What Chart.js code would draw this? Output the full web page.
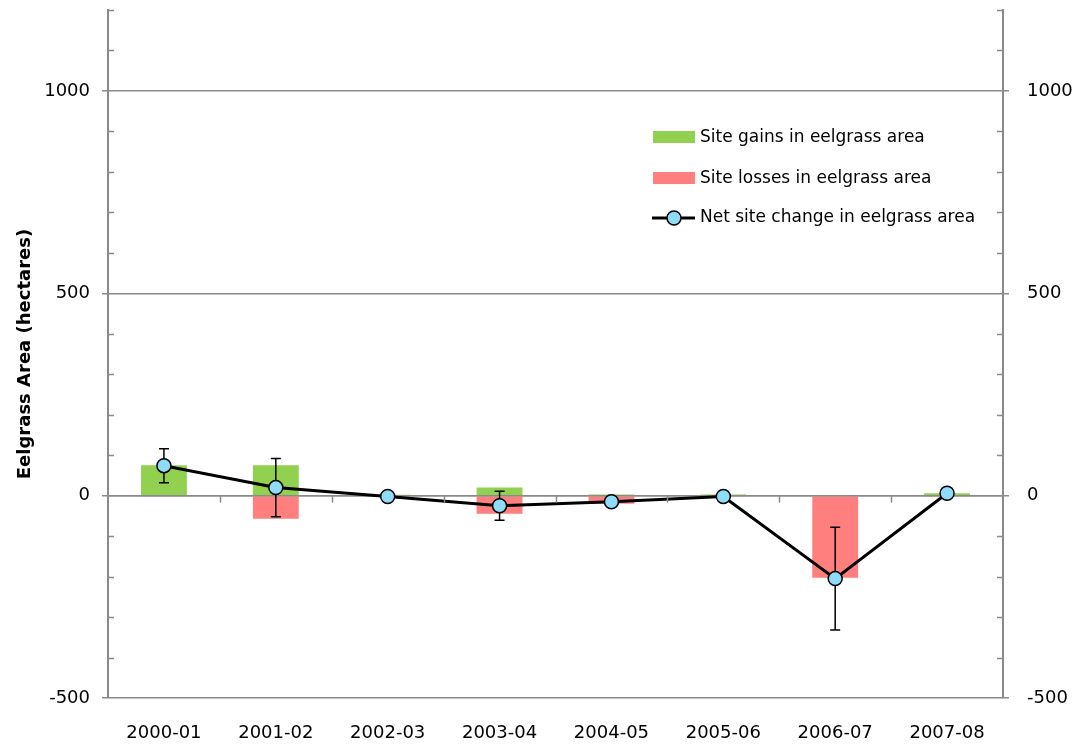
<!DOCTYPE html>
<html lang="en">
<head>
<meta charset="UTF-8">
<title>Eelgrass area change</title>
<script src="https://cdn.jsdelivr.net/npm/chart.js"></script>
<style>
  html, body { margin: 0; padding: 0; background: #fff; }
  #wrap { width: 1072px; height: 745px; position: relative; }
</style>
</head>
<body>
<div id="wrap"><canvas id="grafico"></canvas></div>

<script>
// yearly site changes, hectares
const periodos = ['2000-01', '2001-02', '2002-03', '2003-04', '2004-05', '2005-06', '2006-07', '2007-08'];
const ganhos = [75, 75, 2, 20, 3, 3, 0, 6];
const perdas = [-3, -57, -2, -45, -20, -3, -203, -3];
const liquido = [74, 20, -2, -25, -15, -2, -205, 6];
const erroLiquido = [42, 72, 0, 36, 8, 0, 127, 0];
const ticksPrincipais = [-500, 0, 500, 1000];

const cinza = '#8a8a8a';
const fonte = "'DejaVu Sans', sans-serif";

// minor ticks (every 100) drawn inside both vertical axes, category ticks on the zero line
const marcasMenores = {
  id: 'marcasMenores',
  afterDraw(chart) {
    const ctx = chart.ctx;
    const yL = chart.scales.y, yR = chart.scales.y2, x = chart.scales.x;
    ctx.save();
    ctx.strokeStyle = cinza;
    ctx.lineWidth = 1.5;
    for (let v = -400; v <= 1200; v += 100) {
      if (v % 500 === 0) continue;
      const py = Math.round(yL.getPixelForValue(v)) + 0.5;
      ctx.beginPath();
      ctx.moveTo(yL.right, py); ctx.lineTo(yL.right + 6, py);
      ctx.moveTo(yR.left, py); ctx.lineTo(yR.left - 6, py);
      ctx.stroke();
    }
    const y0 = yL.getPixelForValue(0);
    for (let i = 1; i < periodos.length; i++) {
      const px = Math.round((x.getPixelForTick(i - 1) + x.getPixelForTick(i)) / 2) + 0.5;
      ctx.beginPath();
      ctx.moveTo(px, y0); ctx.lineTo(px, y0 + 7);
      ctx.stroke();
    }
    ctx.restore();
  }
};

// zero axis over the bars, then error bars on the net change, all under the line markers
const barrasErro = {
  id: 'barrasErro',
  beforeDatasetDraw(chart, args) {
    if (args.index !== 2) return;
    const ctx = chart.ctx;
    const y = chart.scales.y;
    const area = chart.chartArea;
    const meta = chart.getDatasetMeta(2);
    ctx.save();
    ctx.strokeStyle = cinza;
    ctx.lineWidth = 1.5;
    const y0 = y.getPixelForValue(0);
    ctx.beginPath();
    ctx.moveTo(area.left, y0); ctx.lineTo(area.right, y0);
    ctx.stroke();
    ctx.strokeStyle = '#000';
    meta.data.forEach(function (pt, i) {
      const e = erroLiquido[i];
      if (!e) return;
      const topo = y.getPixelForValue(liquido[i] + e);
      const base = y.getPixelForValue(liquido[i] - e);
      ctx.beginPath();
      ctx.moveTo(pt.x, topo); ctx.lineTo(pt.x, base);
      ctx.moveTo(pt.x - 5, topo); ctx.lineTo(pt.x + 5, topo);
      ctx.moveTo(pt.x - 5, base); ctx.lineTo(pt.x + 5, base);
      ctx.stroke();
    });
    ctx.restore();
  }
};

// legend box inside the plot, upper right
const legenda = {
  id: 'legenda',
  afterDraw(chart) {
    const ctx = chart.ctx;
    const lx = 653, tx = 700;
    ctx.save();
    ctx.font = '17px ' + fonte;
    ctx.textBaseline = 'middle';
    ctx.fillStyle = '#92d050';
    ctx.fillRect(lx, 131, 42, 12);
    ctx.fillStyle = '#ff7f7f';
    ctx.fillRect(lx, 172, 42, 12);
    ctx.strokeStyle = '#000';
    ctx.lineWidth = 3;
    ctx.beginPath();
    ctx.moveTo(lx - 1, 218); ctx.lineTo(lx + 42, 218);
    ctx.stroke();
    ctx.beginPath();
    ctx.arc(lx + 21, 218, 7, 0, Math.PI * 2);
    ctx.fillStyle = '#8fdcf8';
    ctx.fill();
    ctx.lineWidth = 1.5;
    ctx.stroke();
    ctx.fillStyle = '#000';
    ctx.fillText('Site gains in eelgrass area', tx, 138);
    ctx.fillText('Site losses in eelgrass area', tx, 179);
    ctx.fillText('Net site change in eelgrass area', tx, 218);
    ctx.restore();
  }
};

function semPadding(s) {
  s.paddingTop = 0;
  s.paddingBottom = 0;
}

const ctx = document.getElementById('grafico');

new Chart(ctx, {
  type: 'bar',
  data: {
    labels: periodos,
    datasets: [
      {
        label: 'Site gains in eelgrass area',
        data: ganhos,
        backgroundColor: '#92d050',
        stack: 'sitio',
        order: 1,
        categoryPercentage: 1,
        barPercentage: 0.41
      },
      {
        label: 'Site losses in eelgrass area',
        data: perdas,
        backgroundColor: '#ff7f7f',
        stack: 'sitio',
        order: 1,
        categoryPercentage: 1,
        barPercentage: 0.41
      },
      {
        type: 'line',
        label: 'Net site change in eelgrass area',
        data: liquido,
        borderColor: '#000',
        borderWidth: 3,
        pointRadius: 7,
        pointBorderWidth: 1.5,
        pointBackgroundColor: '#8fdcf8',
        pointBorderColor: '#000',
        tension: 0,
        order: 0
      }
    ]
  },
  options: {
    responsive: true,
    maintainAspectRatio: false,
    animation: false,
    layout: { padding: { top: 10, left: 0, right: 0, bottom: 0 } },
    plugins: { legend: { display: false }, tooltip: { enabled: false } },
    scales: {
      x: {
        stacked: true,
        offset: true,
        grid: { display: false, drawTicks: false },
        border: { display: false },
        ticks: { color: '#000', padding: 25, font: { family: fonte, size: 18 } },
        afterFit(s) { s.height = 47; }
      },
      y: {
        position: 'left',
        stacked: true,
        min: -500,
        max: 1200,
        afterBuildTicks(s) { s.ticks = ticksPrincipais.map(v => ({ value: v })); },
        grid: { color: cinza, lineWidth: 1.5, tickLength: 6, tickColor: cinza, drawTicks: true },
        border: { display: true, color: cinza, width: 2 },
        ticks: {
          color: '#000',
          padding: 12,
          font: { family: fonte, size: 18 },
          callback: v => String(v)
        },
        title: {
          display: true,
          text: 'Eelgrass Area (hectares)',
          color: '#000',
          font: { family: fonte, size: 18, weight: 'bold' },
          padding: { top: 15, bottom: 0 }
        },
        afterFit(s) { s.width = 108; semPadding(s); }
      },
      y2: {
        position: 'right',
        min: -500,
        max: 1200,
        afterBuildTicks(s) { s.ticks = ticksPrincipais.map(v => ({ value: v })); },
        grid: { drawOnChartArea: false, tickLength: 6, tickColor: cinza, lineWidth: 1.5 },
        border: { display: true, color: cinza, width: 2 },
        ticks: {
          color: '#000',
          padding: 18,
          font: { family: fonte, size: 18 },
          callback: v => String(v)
        },
        afterFit(s) { s.width = 69; semPadding(s); }
      }
    }
  },
  plugins: [marcasMenores, barrasErro, legenda]
});
</script>
</body>
</html>
